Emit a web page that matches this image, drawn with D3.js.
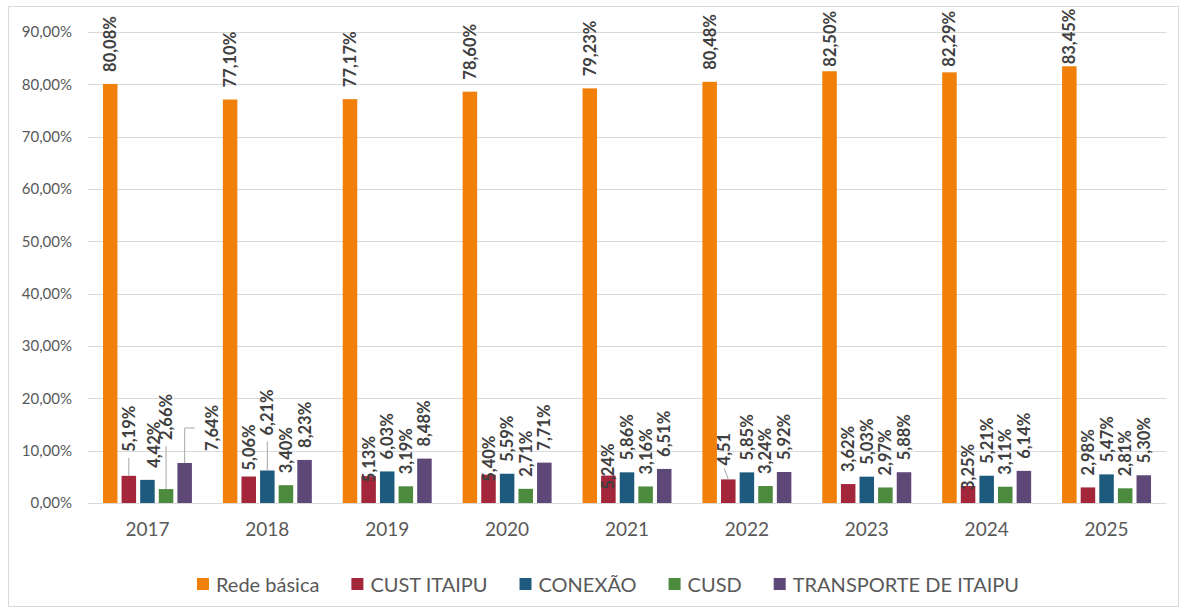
<!DOCTYPE html>
<html>
<head>
<meta charset="utf-8">
<script src="https://cdn.jsdelivr.net/npm/d3@7"></script>
<style>
body, html{
  margin:0;
  padding:0;
  background:#fff;
}
svg{
  display:block;
  font-family: Lato, "Open Sans", sans-serif;
}
</style>
</head>
<body>
<svg id="chart" width="1188" height="612"></svg>
<script>
// data
var years = ['2017','2018','2019','2020','2021','2022','2023','2024','2025']
var seriesNames = ['Rede básica','CUST ITAIPU','CONEXÃO','CUSD','TRANSPORTE DE ITAIPU']
var redeBasica = [80.08,77.10,77.17,78.60,79.23,80.48,82.50,82.29,83.45]
var custItaipu = [5.19,5.06,5.13,5.40,5.24,4.51,3.62,3.25,2.98]
var conexao    = [4.42,6.21,6.03,5.59,5.86,5.85,5.03,5.21,5.47]
var cusd       = [2.66,3.40,3.19,2.71,3.16,3.24,2.97,3.11,2.81]
var transporte = [7.64,8.23,8.48,7.71,6.51,5.92,5.88,6.14,5.30]
var yTicks = [0,10,20,30,40,50,60,70,80,90]
var colors = ['#F0800A','#A3263A','#1E5A7E','#4C8A3E','#5E4878']

// labels that were dragged by hand in the original (series-year index)
var labelNudge = {
  '1-0':{dx:0,dy:-12,leader:'v'},
  '2-0':{dx:7,dy:0},
  '3-0':{dx:0,dy:-37,leader:'v'},
  '4-0':{dx:27,dy:0,leader:'elbow'},
  '1-1':{dx:0,dy:6},
  '2-1':{dx:0,dy:-23,leader:'v'},
  '1-2':{dx:0,dy:18},
  '1-3':{dx:0,dy:19},
  '1-4':{dx:0,dy:26},
  '1-5':{dx:-4,dy:-2,leader:'slant'},
  '1-7':{dx:0,dy:16}
}
var labelText = {'1-5':'4,51'}

var allSeries = [redeBasica, custItaipu, conexao, cusd, transporte]

var svg = d3.select('#chart')
var pLeft = 87.5, pRight = 1166.5, pTop = 32, pBottom = 503

// outer frame
svg.append('rect')
  .attr('x',8.5).attr('y',6.5).attr('width',1170).attr('height',600)
  .attr('fill','#fff').attr('stroke','#d9d9d9').attr('stroke-width',1)

var x0 = d3.scaleBand().domain(years).range([pLeft,pRight]).paddingInner(0.258).paddingOuter(0.129)
var x1 = d3.scaleBand().domain(d3.range(5)).range([0,x0.bandwidth()]).paddingInner(0.22).paddingOuter(0)
var y = d3.scaleLinear().domain([0,90]).range([pBottom,pTop])

var fmt = function(v){ return d3.format('.2f')(v).replace('.',',') + '%' }

// gridlines
svg.append('g').selectAll('line').data(yTicks).join('line')
  .attr('x1',pLeft).attr('x2',pRight)
  .attr('y1',d => Math.round(y(d))+0.5).attr('y2',d => Math.round(y(d))+0.5)
  .attr('stroke','#d9d9d9').attr('stroke-width',1)

// y axis labels
var yAxis = svg.append('g').attr('transform','translate(72,0)')
  .call(d3.axisLeft(y).tickValues(yTicks).tickSize(0).tickPadding(0).tickFormat(fmt))
yAxis.select('.domain').remove()
yAxis.selectAll('text').attr('fill','#595959').style('font-size','15px').style('font-family','Lato, sans-serif')

// x axis labels
var xAxis = svg.append('g').attr('transform','translate(0,'+pBottom+')')
  .call(d3.axisBottom(x0).tickSize(0).tickPadding(20))
xAxis.select('.domain').remove()
xAxis.selectAll('text').attr('fill','#595959').style('font-size','19px').style('font-family','Lato, sans-serif')

// bars
var groups = svg.append('g').selectAll('g').data(years).join('g')
  .attr('transform', d => 'translate('+x0(d)+',0)')

groups.selectAll('rect')
  .data((d,i) => allSeries.map((s,k) => ({k:k, v:s[i], i:i})))
  .join('rect')
  .attr('x', d => x1(d.k))
  .attr('width', x1.bandwidth())
  .attr('y', d => y(d.v))
  .attr('height', d => y(0) - y(d.v))
  .attr('fill', d => colors[d.k])

// data labels
var lab = svg.append('g')
var leaders = svg.append('g')
years.forEach(function(yr,i){
  allSeries.forEach(function(s,k){
    var key = k+'-'+i
    var v = s[i]
    var cx = x0(yr) + x1(k) + x1.bandwidth()/2
    var barTop = y(v)
    var t = lab.append('text')
      .text(labelText[key] || fmt(v))
      .attr('fill','#404040')
      .style('font-size','16.5px')
      .style('font-weight','bold')
      .attr('text-anchor','start')
      .attr('dominant-baseline','central')
    var L = t.node().getComputedTextLength()
    var b = barTop - 12
    // keep the label inside the chart frame, as Excel does
    if (b - L < 11) b = Math.min(11 + L, barTop - 2)
    var n = labelNudge[key] || {dx:0, dy:0}
    b += n.dy
    var lx = cx + n.dx
    t.attr('transform','translate('+lx+','+b+') rotate(-90)')
    if (n.leader == 'v') {
      leaders.append('line').attr('x1',cx).attr('x2',cx).attr('y1',b+6).attr('y2',barTop)
    } else if (n.leader == 'elbow') {
      leaders.append('polyline')
        .attr('points', [[cx,barTop],[cx,b-L/2],[lx-17,b-L/2]].map(p => p.join(',')).join(' '))
        .attr('fill','none')
    } else if (n.leader == 'slant') {
      leaders.append('line').attr('x1',lx).attr('x2',cx).attr('y1',b+3).attr('y2',barTop)
    }
  })
})
leaders.selectAll('line,polyline').attr('stroke','#a6a6a6').attr('stroke-width',1)

// legend
var legend = svg.append('g')
var legX = 0
seriesNames.forEach(function(name,k){
  var g = legend.append('g')
  g.append('rect').attr('x',0).attr('y',-6).attr('width',12).attr('height',12).attr('fill',colors[k])
  var tx = g.append('text').attr('x',19).attr('y',0).attr('dominant-baseline','central')
    .text(name).attr('fill','#595959').style('font-size','20px')
  var w = 19 + tx.node().getComputedTextLength()
  g.attr('transform','translate('+legX+',0)')
  legX += w + 32
})
var total = legX - 32
legend.attr('transform','translate('+(608 - total/2)+',584)')
</script>
</body>
</html>
